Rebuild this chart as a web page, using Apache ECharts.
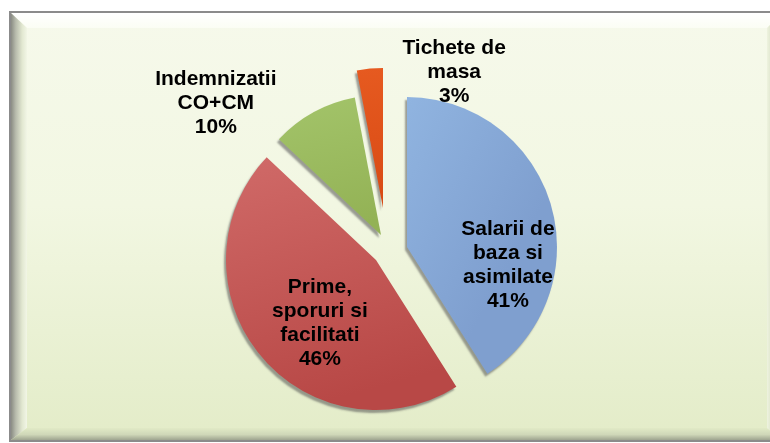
<!DOCTYPE html>
<html>
<head>
<meta charset="utf-8">
<script src="https://cdn.jsdelivr.net/npm/echarts@6/dist/echarts.min.js"></script>
<style>
  html, body { margin: 0; padding: 0; background: #fff; }
  #frame {
    position: absolute; left: 9px; top: 11px; width: 775px; height: 431px;
    box-sizing: border-box; border: 2px solid #8b8b8b;
    background: linear-gradient(to bottom, #f6f9eb 0%, #f2f7e2 45%, #e3ecc8 100%);
    overflow: hidden;
  }
  .bevel { position: absolute; }
  #bTop {
    top: 0; left: 0; right: 0; height: 15px;
    background: linear-gradient(to bottom, #ffffff, #fbfdf4);
    clip-path: polygon(0 0, 100% 0, calc(100% - 15px) 100%, 16px 100%);
  }
  #bLeft {
    top: 0; bottom: 0; left: 0; width: 16px;
    background: linear-gradient(to right, #8a8c84 0%, #b8bcad 30%, #e2e8d1 70%, #f2f6e6 100%);
    clip-path: polygon(0 0, 100% 15px, 100% calc(100% - 12px), 0 100%);
  }
  #bBottom {
    bottom: 0; left: 0; right: 0; height: 12px;
    background: linear-gradient(to bottom, #e1eac6 0%, #cfd7b8 55%, #9ea48f 100%);
    clip-path: polygon(16px 0, calc(100% - 15px) 0, 100% 100%, 0 100%);
  }
  #bRight {
    top: 0; bottom: 0; right: 0; width: 15px;
    background: linear-gradient(to left, #a2a594 0%, #d8dfc5 60%, #eef3df 100%);
    clip-path: polygon(0 15px, 100% 0, 100% 100%, 0 calc(100% - 12px));
  }
  #main { position: absolute; left: 0; top: 0; width: 770px; height: 443px; }
</style>
</head>
<body>
<div id="frame">
  <div class="bevel" id="bTop"></div>
  <div class="bevel" id="bLeft"></div>
  <div class="bevel" id="bBottom"></div>
  <div class="bevel" id="bRight"></div>
</div>
<div id="main"></div>
<script>
// date
const categories = ['Salarii de baza si asimilate', 'Prime, sporuri si facilitati', 'Indemnizatii CO+CM', 'Tichete de masa']
const labelTexts = ['Salarii de\nbaza si\nasimilate', 'Prime,\nsporuri si\nfacilitati', 'Indemnizatii\nCO+CM', 'Tichete de\nmasa']
const values = [41, 46, 10, 3]

// fiecare felie e trasa de o serie proprie (explodata cu centrul ei)
const sliceCenters = [[407, 247], [376, 260], [381, 235], [383, 208]]
const sliceRadii = [150, 150, 140, 140]
// deplasarea etichetei fata de pozitia 'inside' implicita
const labelShift = [[26, 40], [4, 13], [-130, -68], [78, -63]]

const grad = (c1, c2, x2, y2) => new echarts.graphic.LinearGradient(0, 0, x2, y2, [
  { offset: 0, color: c1 },
  { offset: 1, color: c2 }
])
const sliceColors = [
  grad('#90b4e0', '#7f9fcf', 1, 0.3),
  grad('#d06a68', '#b84846', 0.3, 1),
  grad('#a3c46a', '#93b255', 0.3, 1),
  grad('#e65a20', '#d84a14', 0.3, 1)
]

const chart = echarts.init(document.getElementById('main'), null, { renderer: 'canvas' })

const series = values.map((_, k) => ({
  type: 'pie',
  silent: true,
  center: sliceCenters[k],
  radius: [0, sliceRadii[k]],
  startAngle: 90,
  clockwise: true,
  avoidLabelOverlap: false,
  percentPrecision: 0,
  labelLine: { show: false },
  emphasis: { disabled: true },
  labelLayout: () => ({ dx: labelShift[k][0], dy: labelShift[k][1] }),
  data: values.map((v, i) => ({
    name: categories[i],
    value: v,
    itemStyle: i === k ? {
      color: sliceColors[i],
      shadowColor: 'rgba(80,80,80,0.55)',
      shadowBlur: 2,
      shadowOffsetX: -2,
      shadowOffsetY: 3
    } : { color: 'rgba(0,0,0,0)' },
    label: i === k ? {
      show: true,
      position: 'inside',
      formatter: p => labelTexts[p.dataIndex] + '\n' + p.percent + '%',
      color: '#000',
      fontFamily: 'Liberation Sans, Arial, sans-serif',
      fontWeight: 'bold',
      fontSize: 21,
      lineHeight: 24,
      align: 'center'
    } : { show: false }
  }))
}))

chart.setOption({
  backgroundColor: 'transparent',
  animation: false,
  series: series
})
</script>
</body>
</html>
